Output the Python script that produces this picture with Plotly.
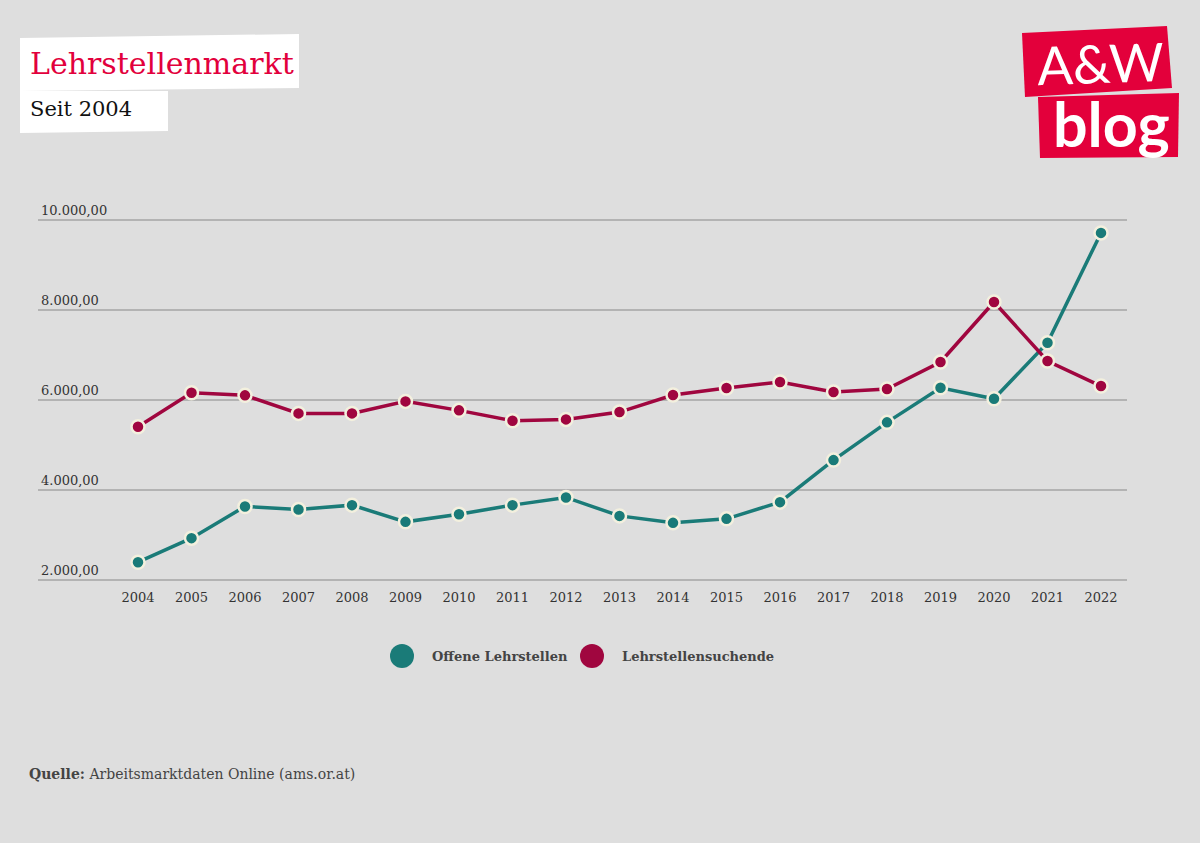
import plotly.graph_objects as go

years = list(range(2004, 2023))
offene = [2385, 2920, 3626, 3559, 3655, 3283, 3454, 3655, 3826, 3416,
          3261, 3350, 3722, 4657, 5497, 6267, 6022, 7270, 9713]
suchende = [5399, 6156, 6098, 5697, 5697, 5964, 5764, 5532, 5563, 5726,
            6105, 6261, 6394, 6171, 6238, 6840, 8176, 6862, 6305]
series_names = ["Offene Lehrstellen", "Lehrstellensuchende"]
series_colors = ["#1a7b78", "#a0063f"]
y_ticks = [2000, 4000, 6000, 8000, 10000]
y_ticktext = ["2.000,00", "4.000,00", "6.000,00", "8.000,00", "10.000,00"]

W, H = 1200, 843
L, R, T, B = 38, 73, 170, 259
PW, PH = W - L - R, H - T - B
Y_RANGE = [1900, 11113]
STEP = (1101 - 138) / 18


def px(x):
    return (x - L) / PW


def py(y):
    return (H - B - y) / PH


SERIF = "Roboto Slab, DejaVu Serif, serif"
BG = "#dedede"

fig = go.Figure()
for name, vals, col in zip(series_names, [offene, suchende], series_colors):
    fig.add_trace(go.Scatter(
        x=years, y=vals, name=name, mode="lines+markers",
        line=dict(color=col, width=3.5),
        marker=dict(size=13, color=col, line=dict(color="#f3f0de", width=2.5)),
        cliponaxis=False, showlegend=False, hoverinfo="x+y",
    ))

shapes = []
annotations = []


def path(points):
    return "M " + " L ".join(f"{px(a):.5f},{py(b):.5f}" for a, b in points) + " Z"


# Title boxes
shapes.append(dict(type="path", xref="paper", yref="paper", layer="below",
                   path=path([(20, 38), (299, 34), (299, 88), (20, 91)]),
                   fillcolor="white", line=dict(width=0)))
shapes.append(dict(type="path", xref="paper", yref="paper", layer="below",
                   path=path([(20, 91), (168, 91), (168, 131), (20, 133)]),
                   fillcolor="white", line=dict(width=0)))
annotations.append(dict(text="Lehrstellenmarkt", xref="paper", yref="paper",
                        x=px(28), y=py(64), xanchor="left", yanchor="middle",
                        showarrow=False, font=dict(family=SERIF, size=30, color="#e2003c")))
annotations.append(dict(text="Seit 2004", xref="paper", yref="paper",
                        x=px(28), y=py(109), xanchor="left", yanchor="middle",
                        showarrow=False, font=dict(family=SERIF, size=21, color="#111111")))

# Logo
LOGO = "#e3003b"
shapes.append(dict(type="path", xref="paper", yref="paper",
                   path=path([(1022, 33), (1167, 26), (1172, 88), (1025, 97)]),
                   fillcolor=LOGO, line=dict(width=0)))
shapes.append(dict(type="path", xref="paper", yref="paper",
                   path=path([(1038, 97), (1179, 93), (1178, 157), (1040, 158)]),
                   fillcolor=LOGO, line=dict(width=0)))
annotations.append(dict(text="A&amp;W", xref="paper", yref="paper",
                        x=px(1100), y=py(63), xanchor="center", yanchor="middle",
                        textangle=-2, showarrow=False,
                        font=dict(family="Lato", size=53, color="white")))
annotations.append(dict(text="<b>blog</b>", xref="paper", yref="paper",
                        x=px(1111), y=py(124), xanchor="center", yanchor="middle",
                        showarrow=False,
                        font=dict(family="Lato", size=61, color="white")))

# Legend
leg = [(402, 430), (592, 620)]
for (cx, tx), name, col in zip(leg, series_names, series_colors):
    shapes.append(dict(type="circle", xref="paper", yref="paper",
                       x0=px(cx - 12), x1=px(cx + 12), y0=py(656 + 12), y1=py(656 - 12),
                       fillcolor=col, line=dict(width=0)))
    annotations.append(dict(text=f"<b>{name}</b>", xref="paper", yref="paper",
                            x=px(tx), y=py(656), xanchor="left", yanchor="middle",
                            showarrow=False, font=dict(family=SERIF, size=13, color="#444444")))

# Source
annotations.append(dict(text="<b>Quelle:</b> Arbeitsmarktdaten Online (ams.or.at)",
                        xref="paper", yref="paper", x=px(27), y=py(774),
                        xanchor="left", yanchor="middle", showarrow=False,
                        font=dict(family=SERIF, size=14, color="#444444")))

fig.update_layout(
    width=W, height=H,
    margin=dict(l=L, r=R, t=T, b=B),
    paper_bgcolor=BG, plot_bgcolor=BG,
    shapes=shapes, annotations=annotations,
    font=dict(family=SERIF, color="#333333"),
    xaxis=dict(range=[2004 - (138 - L) / STEP, 2022 + (W - R - 1101) / STEP],
               tickvals=years, ticktext=[str(y) for y in years],
               showgrid=False, zeroline=False, showline=False, ticks="",
               ticklabelstandoff=4,
               tickfont=dict(size=13, color="#333333")),
    yaxis=dict(range=Y_RANGE, tickvals=y_ticks, ticktext=y_ticktext,
               showgrid=True, gridcolor="#b3b3b3", gridwidth=1.5, zeroline=False,
               showline=False, ticks="", ticklabelposition="inside top",
               tickfont=dict(size=13, color="#333333")),
)

fig.write_html("out.html", post_script="document.body.style.margin='0';",
               config={"displayModeBar": False})
